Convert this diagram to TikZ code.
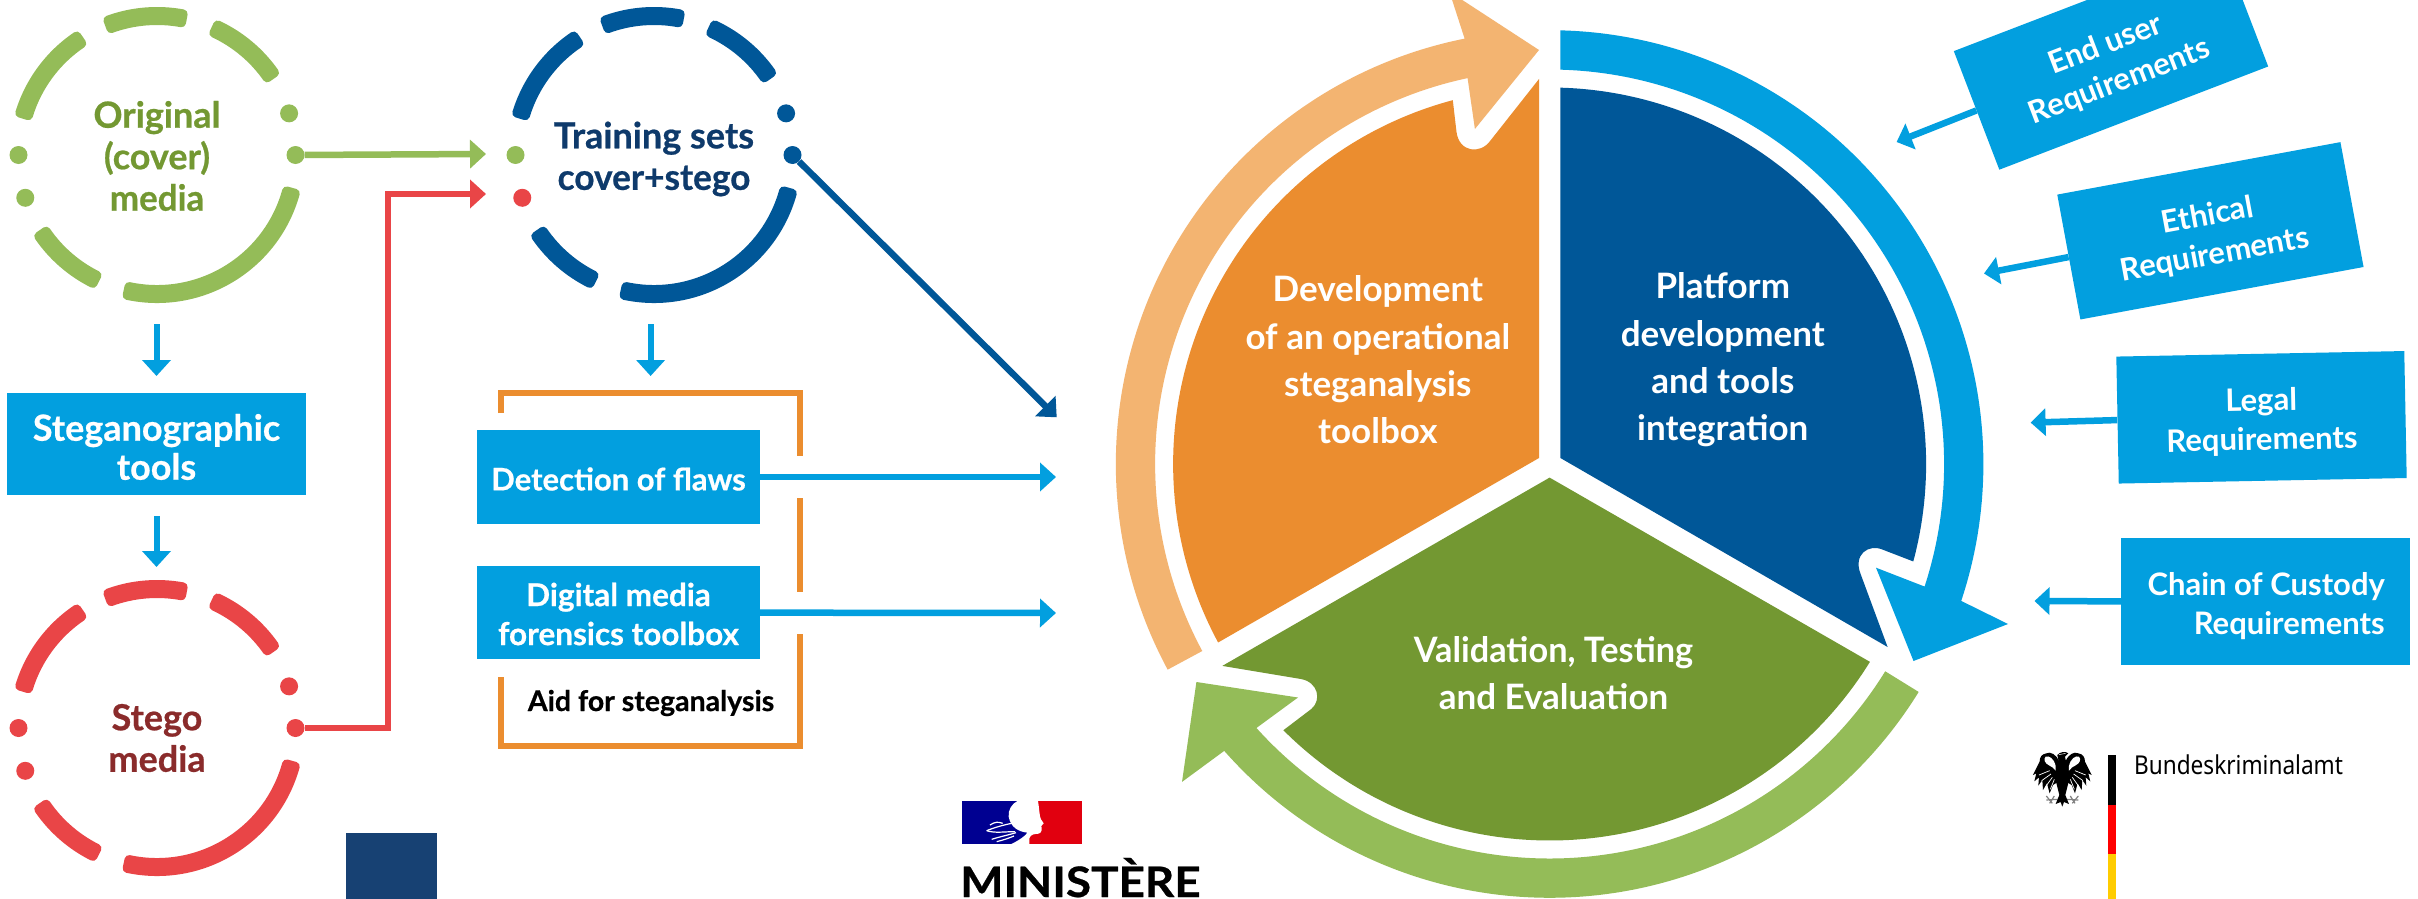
\documentclass[tikz,border=0pt]{standalone}
\usepackage{fontspec}
\usepackage{graphicx}
\setmainfont{Lato}
\newfontfamily\hvy{Lato}[UprightFont=* Bold,UprightFeatures={FakeBold=0.6}]
\newfontfamily\bkafont{Noto Sans}
\usetikzlibrary{arrows.meta,calc}
\definecolor{cGreen}{HTML}{94BC58}
\definecolor{cGreenD}{HTML}{739832}
\definecolor{cRed}{HTML}{E94547}
\definecolor{cRedD}{HTML}{8A2B2B}
\definecolor{cNavy}{HTML}{005798}
\definecolor{cNavyT}{HTML}{0E3A6B}
\definecolor{cSky}{HTML}{029FDF}
\definecolor{cOrange}{HTML}{EB8D2F}
\definecolor{cOrangeL}{HTML}{F3B471}
\definecolor{cSquare}{HTML}{174173}
\definecolor{cFrBlue}{HTML}{000091}
\definecolor{cFrRed}{HTML}{E1000F}
\definecolor{cGold}{HTML}{FFCC00}
\newcommand\sx[2]{\scalebox{#1}[1]{#2}}
\newcommand\ringseg[4]{\filldraw[#4,line width=9pt,line join=round] ($(#1)+(#2:143.5)$) arc[start angle=#2,end angle=#3,radius=143.5] -- ($(#1)+(#3:134.5)$) arc[start angle=#3,end angle=#2,radius=134.5] -- cycle;}
\newcommand\ringsegs[2]{\ringseg{#1}{-110}{-79.5}{#2}\ringseg{#1}{-65}{-35}{#2}\ringseg{#1}{15.5}{102}{#2}\ringseg{#1}{116.5}{145.5}{#2}\ringseg{#1}{-163}{-124}{#2}}
\tikzset{
 dotn/.style={circle,minimum size=18pt,inner sep=0pt,fill=#1},
 ringtext/.style={align=center,font=\hvy\fontsize{36}{41.5}\selectfont,text=#1},
 skybox/.style={fill=cSky,inner sep=0pt},
 skytext/.style={text=white,inner sep=0pt,align=center,font=\hvy\fontsize{#1}{39}\selectfont},
 reqbox/.style={fill=cSky,inner sep=0pt,minimum width=288pt,minimum height=127pt},
 reqtext/.style={text=white,inner sep=0pt,align=center,font=\bfseries\fontsize{31}{39.5}\selectfont},
 wedgetext/.style={align=center,text=white,font=\bfseries\fontsize{35}{47.3}\selectfont},
 bigarrow/.style={line width=6.5pt,draw=#1,-{Triangle[length=16pt,width=28pt]}},
 smallarrow/.style={line width=6pt,draw=cSky,-{Triangle[length=16pt,width=28pt]}},
 reqarrow/.style={line width=6.5pt,draw=cSky,-{Triangle[length=15pt,width=27pt]}},
 bracket/.style={draw=cOrange,line width=6.5pt},
}
\begin{document}
\begin{tikzpicture}[x=1pt,y=-1pt]
\useasboundingbox (0,0) rectangle (2418,899);
\clip (0,0) rectangle (2418,899);
\fill[white] (0,0) rectangle (2418,899);
\coordinate (c1) at (157,155);
\coordinate (c2) at (654,155);
\coordinate (c3) at (157,728);
\coordinate (C) at (1549.6,464);
\coordinate (tipG) at (486,154);
\coordinate (tipR) at (486,194);
\coordinate (kneeA) at (388,728);
\coordinate (kneeB) at (388,194);
\coordinate (tipN) at (1056.7,417.3);
\coordinate (tipD) at (1056,477);
\coordinate (tipF) at (1056,613);
% rings
\ringsegs{c1}{cGreen}
\ringsegs{c2}{cNavy}
\ringsegs{c3}{cRed}
\node[dotn=cGreen] (g1) at ($(c1)+(-17.5:138.5)$) {};
\node[dotn=cGreen] (g2) at ($(c1)+(0:138.5)$) {};
\node[dotn=cGreen] (g3) at ($(c1)+(180:138.5)$) {};
\node[dotn=cGreen] (g4) at ($(c1)+(162:138.5)$) {};
\node[dotn=cNavy] (n1) at ($(c2)+(-17.5:138.5)$) {};
\node[dotn=cNavy] (n2) at ($(c2)+(0:138.5)$) {};
\node[dotn=cGreen] (n3) at ($(c2)+(180:138.5)$) {};
\node[dotn=cRed] (n4) at ($(c2)+(162:138.5)$) {};
\node[dotn=cRed] (r1) at ($(c3)+(-17.5:138.5)$) {};
\node[dotn=cRed] (r2) at ($(c3)+(0:138.5)$) {};
\node[dotn=cRed] (r3) at ($(c3)+(180:138.5)$) {};
\node[dotn=cRed] (r4) at ($(c3)+(162:138.5)$) {};
\node[ringtext=cGreenD] (torig) at (157,156) {Original\\(cover)\\\sx{.97}{media}};
\node[ringtext=cNavyT] (ttrain) at (654,159) {\sx{1.0}{Training sets}\\\sx{.98}{cover+stego}};
\node[ringtext=cRedD] (tstego) at (157,738) {Stego\\media};
% left connectors
\draw[bigarrow=cGreen] (g2) -- (tipG);
\draw[line width=6.5pt,draw=cRed,-{Triangle[length=16pt,width=28pt]}] (r2) -- (kneeA) -- (kneeB) -- (tipR);
\draw[bigarrow=cNavy] (n2) -- (tipN);
% boxes
\node[skybox,minimum width=299pt,minimum height=102pt] (steg) at (156.5,444) {};
\node[skytext=36] (stegt) at (156.5,447) {Steganographic\\tools};
\coordinate (a1s) at (156.5,324); \coordinate (a1e) at (156.5,376);
\coordinate (a2s) at (156.5,516); \coordinate (a2e) at (156.5,567);
\coordinate (a3s) at (650.6,324); \coordinate (a3e) at (650.6,376);
\draw[smallarrow] (a1s) -- (a1e);
\draw[smallarrow] (a2s) -- (a2e);
\draw[smallarrow] (a3s) -- (a3e);
% bracket
\coordinate (b1) at (501,413); \coordinate (b2) at (501,393); \coordinate (b3) at (800,393); \coordinate (b4) at (800,456);
\coordinate (b5) at (800,498); \coordinate (b6) at (800,592);
\coordinate (b7) at (800,634); \coordinate (b8) at (800,746); \coordinate (b9) at (501,746); \coordinate (b10) at (501,677);
\draw[bracket,line join=miter] (b1) -- (b2) -- (b3) -- (b4);
\draw[bracket] (b5) -- (b6);
\draw[bracket,line join=miter] (b7) -- (b8) -- (b9) -- (b10);
\node[skybox,minimum width=283pt,minimum height=94pt] (det) at (618.5,477) {};
\node[skytext=31] (dett) at (618.5,479) {Detection of flaws};
\node[skybox,minimum width=283pt,minimum height=93pt] (dig) at (618.5,612.5) {};
\node[skytext=31.5] (digt) at (618.5,614) {Digital media\\forensics toolbox};
\node[text=black,font=\hvy\fontsize{28.5}{35}\selectfont] (aid) at (651,703) {Aid for steganalysis};
\draw[bigarrow=cSky] (det) -- (tipD);
\draw[bigarrow=cSky] (dig) -- (tipF);
% navy square
\fill[cSquare] (346,833) rectangle (436.5,899);
% Marianne logo
\begin{scope}[shift={(940,790)},x=0.33333pt,y=-0.33333pt]
\fill[cFrBlue] (65,33) rectangle (262,163);
\fill[cFrRed] (262,33) rectangle (427,163);
\fill[white] (232,33) -- (294,33) .. controls (298,55) and (298,80) .. (303,88) -- (311,100) -- (304,108) .. controls (306,118) and (306,128) .. (296,131) .. controls (285,132) and (272,132) .. (268,145) -- (268,163) -- (212,163) .. controls (240,150) and (258,135) .. (262,128) .. controls (235,125) and (212,112) .. (206,80) .. controls (204,60) and (215,42) .. (232,33) -- cycle;
\draw[white,line width=1.2pt] (140,122) .. controls (165,112) and (190,105) .. (215,100);
\draw[white,line width=1.2pt] (150,105) .. controls (165,95) and (175,95) .. (188,100);
\draw[white,line width=1.2pt] (140,122) .. controls (165,130) and (190,125) .. (225,125);
\draw[white,line width=1.2pt] (155,148) .. controls (180,140) and (205,135) .. (228,128);
\draw[white,line width=1.2pt] (170,155) .. controls (190,150) and (205,145) .. (222,138);
\end{scope}
\node[anchor=base west,inner sep=0pt,text=black,font=\hvy\fontsize{42}{42}\selectfont] (minis) at (960,897) {\sx{1.09}{MINISTÈRE}};
% main cycle
\fill[cOrangeL] ($(C)+(-208.3:433.8)$) arc[start angle=-208.3,end angle=-101.3,radius=433.8] -- (1449.4,-8.4) -- (1539,50) -- (1474.9,129) -- ($(C)+(-102:394.5)$) arc[start angle=-102,end angle=-208.3,radius=394.5] -- cycle;
\fill[cSky] ($(C)+(-88.57:433.8)$) arc[start angle=-88.57,end angle=18.4,radius=433.8] -- (2008,624) -- (1913.5,661) -- (1876,567.7) -- ($(C)+(18.1:394.5)$) arc[start angle=18.1,end angle=-88.43,radius=394.5] -- cycle;
\fill[cGreen] ($(C)+(31.7:433.8)$) arc[start angle=31.7,end angle=138.6,radius=433.8] -- (1182,781.9) -- (1196.4,682) -- (1298,697.5) -- ($(C)+(138:394.5)$) arc[start angle=138,end angle=31.7,radius=394.5] -- cycle;
\fill[cNavy] (1560.4,458) -- ($(C)+(-88.36:376.5)$) arc[start angle=-88.36,end angle=15,radius=376.5] -- (1883.6,550) .. controls (1868,543) and (1853,555) .. (1860.6,574) -- (1887.6,647) -- cycle;
\fill[cGreenD] (1549.6,477.6) -- ($(C)+(31.7:376.5)$) arc[start angle=31.7,end angle=135,radius=376.5] -- (1311.3,709) .. controls (1322,700) and (1318,682) .. (1300.9,679) -- (1222.3,665.9) -- cycle;
\fill[cOrange] (1539,458) -- ($(C)+(-208.3:376.5)$) arc[start angle=-208.3,end angle=-104.9,radius=376.5] -- (1456.5,132) .. controls (1459,152) and (1480,155) .. (1490.4,140.6) -- (1539,79) -- cycle;
\node[wedgetext] (wo) at (1377.8,360) {Development\\of an operational\\steganalysis\\toolbox};
\node[wedgetext] (wb) at (1722.8,360) {Platform\\development\\and tools\\integration};
\node[wedgetext] (wg) at (1553.5,673) {\sx{.98}{Validation, Testing}\\and Evaluation};
% requirements
\node[reqbox,rotate=21] (eu) at (2111,58.8) {};
\node[reqtext,rotate=21] (eut) at (2112.8,63.5) {End user\\Requirements};
\node[reqbox,rotate=10.5] (et) at (2210.4,230.8) {};
\node[reqtext,rotate=10.5] (ett) at (2211.4,235.8) {Ethical\\Requirements};
\node[reqbox,rotate=1.1] (le) at (2261.5,417.3) {};
\node[reqtext,rotate=1.1] (let) at (2261.6,421.5) {Legal\\Requirements};
\node[reqbox,minimum width=288.8pt] (ch) at (2265.6,601.4) {};
\node[reqtext,align=right,anchor=east] (cht) at (2385,606) {Chain of Custody\\Requirements};
\coordinate (teu) at (1896.6,142); \coordinate (tet) at (1984,273.5);
\coordinate (tle) at (2030.6,422.6); \coordinate (tch) at (2034.5,601);
\draw[reqarrow] (eu.west) -- (teu);
\draw[reqarrow] (et.west) -- (tet);
\draw[reqarrow] (le.west) -- (tle);
\draw[reqarrow] (ch.west) -- (tch);
% Eagle
\begin{scope}[shift={(2062.3,740)},x=0.33333pt,y=-0.33333pt]
\foreach \s in {1,-1}{
\begin{scope}[xscale=\s]
\fill[black] (10,62) .. controls (18,45) and (35,33) .. (48,40) .. controls (62,42) and (68,52) .. (68,65) -- (88,105) -- (78,100) -- (84,124) -- (70,112) -- (72,137) -- (60,120) -- (58,150) -- (46,130) -- (38,160) -- (28,135) -- (12,125) -- cycle;
\fill[white] (20,78) .. controls (25,55) and (40,46) .. (50,50) .. controls (58,58) and (52,70) .. (40,76) .. controls (32,80) and (25,84) .. (20,92) -- cycle;
\draw[white,line width=0.7pt] (38,92) -- (70,105);
\draw[white,line width=0.7pt] (34,102) -- (62,122);
\draw[white,line width=0.7pt] (30,112) -- (50,140);
\draw[white,line width=0.7pt] (24,118) -- (36,148);
\draw[gray,line width=1.2pt] (24,168) -- (38,190);
\draw[gray,line width=1.2pt] (48,168) -- (30,190);
\draw[gray,line width=1.2pt] (14,178) -- (48,180);
\end{scope}}
\fill[black] (-14,65) -- (14,60) -- (19,125) -- (9,165) -- (20,192) -- (5,186) -- (0,200) -- (-5,186) -- (-20,192) -- (-9,165) -- (-19,125) -- cycle;
\fill[black] (-15,45) .. controls (-8,36) and (10,32) .. (18,40) -- (8,50) -- (12,68) -- (-10,68) -- cycle;
\draw[white,line width=0.5pt] (-10,44) -- (10,40);
\end{scope}
\fill[black] (2107.5,754.6) rectangle (2116,804.5);
\fill[red] (2107.5,804.5) rectangle (2116,854);
\fill[cGold] (2107.5,854) rectangle (2116,899);
\node[anchor=base west,inner sep=0pt,text=black,font=\bkafont\fontsize{26}{30}\selectfont] (bka) at (2133.9,774) {\sx{.87}{Bundeskriminalamt}};
\end{tikzpicture}
\end{document}
